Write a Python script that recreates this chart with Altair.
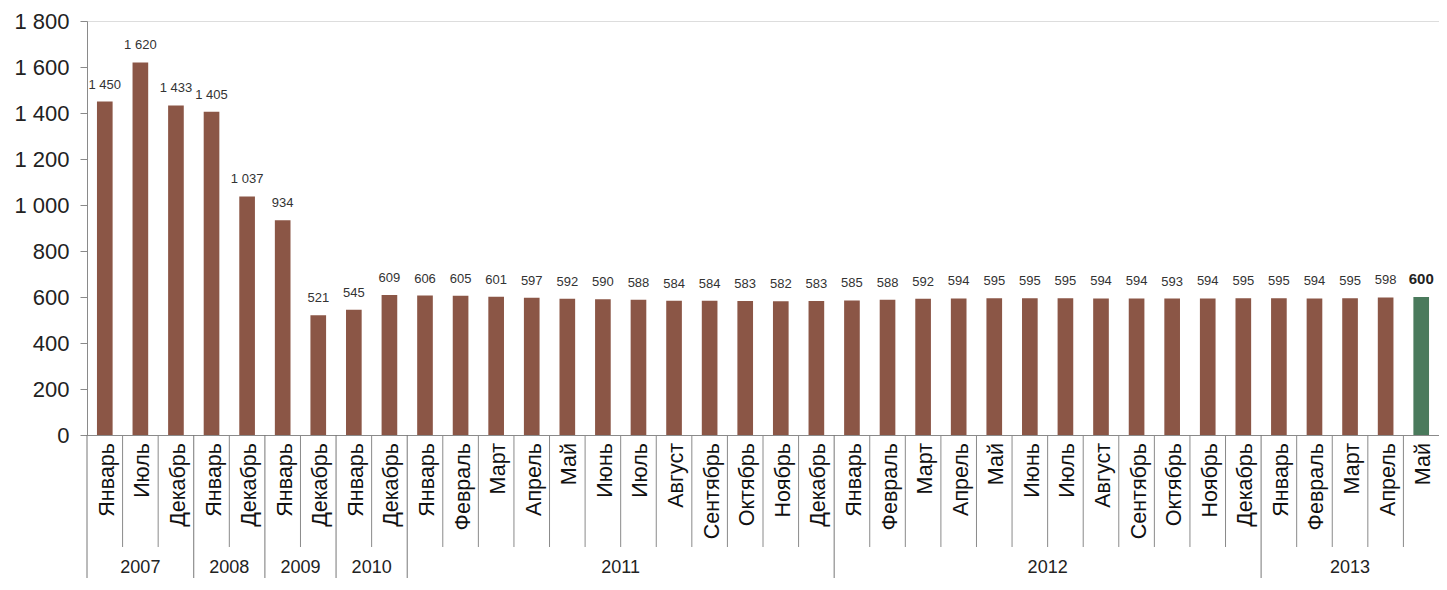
import altair as alt
import pandas as pd

W, H = 1352, 414

months = [
    "Январь", "Июль", "Декабрь",
    "Январь", "Декабрь",
    "Январь", "Декабрь",
    "Январь", "Декабрь",
    "Январь", "Февраль", "Март", "Апрель", "Май", "Июнь", "Июль", "Август",
    "Сентябрь", "Октябрь", "Ноябрь", "Декабрь",
    "Январь", "Февраль", "Март", "Апрель", "Май", "Июнь", "Июль", "Август",
    "Сентябрь", "Октябрь", "Ноябрь", "Декабрь",
    "Январь", "Февраль", "Март", "Апрель", "Май",
]
years = (["2007"] * 3 + ["2008"] * 2 + ["2009"] * 2 + ["2010"] * 2
         + ["2011"] * 12 + ["2012"] * 12 + ["2013"] * 5)
values = [
    1450, 1620, 1433,
    1405, 1037,
    934, 521,
    545, 609,
    606, 605, 601, 597, 592, 590, 588, 584, 584, 583, 582, 583,
    585, 588, 592, 594, 595, 595, 595, 594, 594, 593, 594, 595,
    595, 594, 595, 598, 600,
]
y_ticks = [0, 200, 400, 600, 800, 1000, 1200, 1400, 1600, 1800]

BROWN = "#8b5646"
GREEN = "#4a7a5c"
n = len(values)

bars_df = pd.DataFrame({"i": list(range(n)), "month": months, "year": years, "value": values})
bars_df["x0"] = bars_df["i"] + 0.28
bars_df["x1"] = bars_df["i"] + 0.72
bars_df["xc"] = bars_df["i"] + 0.5
bars_df["base"] = 0
bars_df["label"] = [f"{v:,}".replace(",", " ") for v in values]
bars_df["kind"] = ["last" if k == n - 1 else "base" for k in range(n)]

# year groups
groups = []
start = 0
for k in range(1, n + 1):
    if k == n or years[k] != years[start]:
        groups.append((years[start], start, k))
        start = k
year_df = pd.DataFrame({
    "year": [g[0] for g in groups],
    "xc": [(g[1] + g[2]) / 2 for g in groups],
})
year_bounds = [g[1] for g in groups]
month_bounds = [k for k in range(1, n) if k not in year_bounds]
ysep_df = pd.DataFrame({"pos": year_bounds})
msep_df = pd.DataFrame({"pos": month_bounds})

xscale = alt.Scale(domain=[0, n], nice=False, zero=False)
yscale = alt.Scale(domain=[0, 1800], nice=False, zero=True)

bars = alt.Chart(bars_df).mark_bar().encode(
    x=alt.X("x0:Q", scale=xscale,
            axis=alt.Axis(labels=False, ticks=False, grid=False, title=None,
                          domainColor="#8a8a8a", domainWidth=1)),
    x2="x1:Q",
    y=alt.Y("value:Q", scale=yscale,
            axis=alt.Axis(values=y_ticks, title=None, grid=False,
                          labelExpr="replace(format(datum.value, ','), ',', ' ')",
                          labelFontSize=22, labelColor="#222222", labelPadding=11,
                          tickSize=7, tickColor="#8a8a8a", domainColor="#8a8a8a")),
    y2="base:Q",
    color=alt.Color("kind:N", scale=alt.Scale(domain=["base", "last"], range=[BROWN, GREEN]),
                    legend=None),
)

vlabels = alt.Chart(bars_df).transform_filter("datum.kind == 'base'").mark_text(
    baseline="middle", dy=-17, fontSize=13, color="#333333"
).encode(
    x=alt.X("xc:Q", scale=xscale), y=alt.Y("value:Q", scale=yscale), text="label:N"
)
vlabel_last = alt.Chart(bars_df).transform_filter("datum.kind == 'last'").mark_text(
    baseline="middle", dy=-18, fontSize=15, fontWeight="bold", color="#222222"
).encode(
    x=alt.X("xc:Q", scale=xscale), y=alt.Y("value:Q", scale=yscale), text="label:N"
)

mlabels = alt.Chart(bars_df).mark_text(
    angle=270, align="right", baseline="middle", dy=3, fontSize=21.5, color="#111111"
).encode(
    x=alt.X("xc:Q", scale=xscale), y=alt.value(H + 8), text="month:N"
)

msep = alt.Chart(msep_df).mark_rule(color="#8a8a8a", strokeWidth=1).encode(
    x=alt.X("pos:Q", scale=xscale), y=alt.value(H), y2=alt.value(H + 112)
)
ysep = alt.Chart(ysep_df).mark_rule(color="#777777", strokeWidth=1).encode(
    x=alt.X("pos:Q", scale=xscale), y=alt.value(H), y2=alt.value(H + 143)
)
ylabels = alt.Chart(year_df).mark_text(
    baseline="middle", fontSize=18, color="#222222"
).encode(
    x=alt.X("xc:Q", scale=xscale), y=alt.value(H + 133), text="year:N"
)

chart = alt.layer(bars, vlabels, vlabel_last, msep, ysep, mlabels, ylabels).properties(
    width=W, height=H,
    autosize=alt.AutoSizeParams(type="none"),
    padding={"left": 79, "top": 13, "right": 0, "bottom": 143},
).configure_view(stroke=None).configure(font="Liberation Sans")

chart.save("out.html", embed_options={"renderer": "svg", "actions": False})
